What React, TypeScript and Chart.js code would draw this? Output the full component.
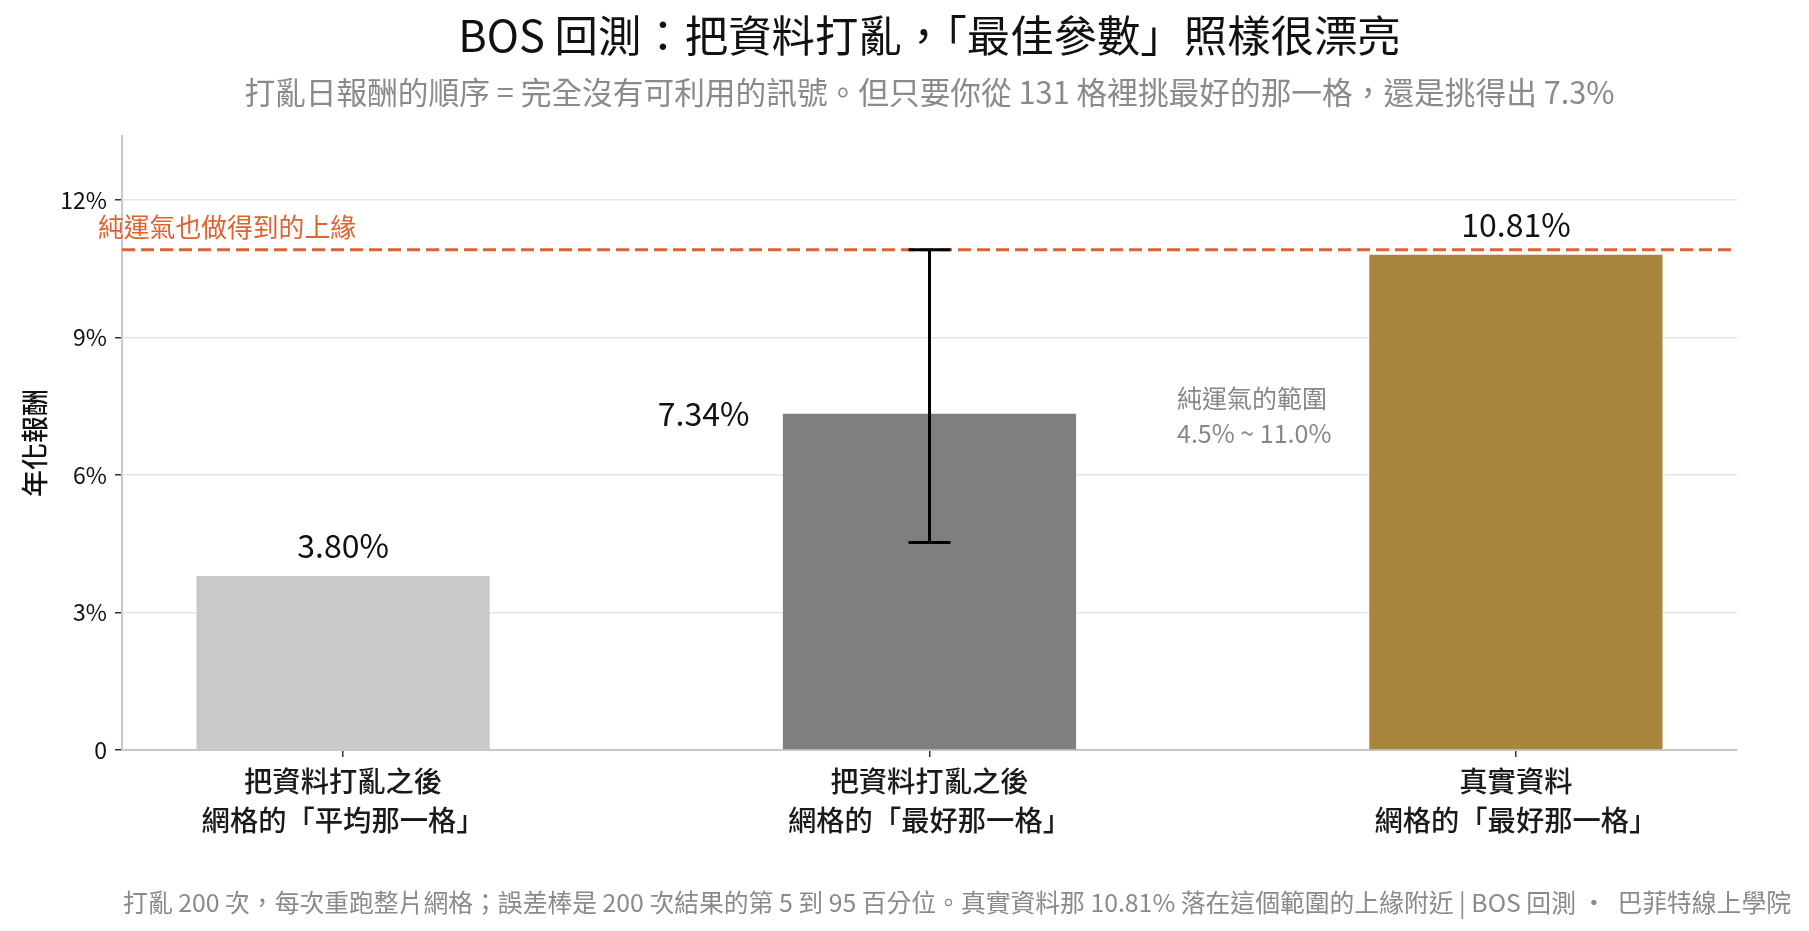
import React, { useEffect, useRef } from 'react';
import { Chart, registerables } from 'chart.js';

Chart.register(...registerables);

const FONT = '"Noto Sans CJK TC", "Noto Sans", sans-serif';

const categories = [
    ['把資料打亂之後', '網格的「平均那一格」'],
    ['把資料打亂之後', '網格的「最好那一格」'],
    ['真實資料', '網格的「最好那一格」'],
];
const annualReturns = [3.80, 7.34, 10.81];
const barColors = ['#c8c9c8', '#7f7f7f', '#a8863c'];
const luckLow = 4.53;
const luckHigh = 10.92;
const yTicks = [0, 3, 6, 9, 12];

const TITLE = 'BOS 回測：把資料打亂，「最佳參數」照樣很漂亮';
const SUBTITLE = '打亂日報酬的順序 = 完全沒有可利用的訊號。但只要你從 131 格裡挑最好的那一格，還是挑得出 7.3%';
const FOOTNOTE = '打亂 200 次，每次重跑整片網格；誤差棒是 200 次結果的第 5 到 95 百分位。真實資料那 10.81% 落在這個範圍的上緣附近 | BOS 回測 ·  巴菲特線上學院';
const Y_TITLE = '年化報酬';
const LINE_LABEL = '純運氣也做得到的上緣';
const RANGE_LABEL = ['純運氣的範圍', '4.5% ~ 11.0%'];

const ORANGE = '#e0622e';

const decorPlugin = {
    id: 'decor',
    afterDatasetsDraw(chart: any) {
        const { ctx, chartArea, scales } = chart;
        const x = scales.x;
        const y = scales.y;
        const cx = (chartArea.left + chartArea.right) / 2;

        ctx.save();
        // upper edge of pure luck
        const yHigh = y.getPixelForValue(luckHigh);
        ctx.strokeStyle = ORANGE;
        ctx.lineWidth = 3;
        ctx.setLineDash([13, 6]);
        ctx.beginPath();
        ctx.moveTo(chartArea.left, yHigh);
        ctx.lineTo(chartArea.right, yHigh);
        ctx.stroke();
        ctx.setLineDash([]);

        ctx.fillStyle = ORANGE;
        ctx.font = `25.8px ${FONT}`;
        ctx.textAlign = 'left';
        ctx.textBaseline = 'middle';
        ctx.fillText(LINE_LABEL, 98, yHigh - 22);

        // error bar on the shuffled best cell
        const ex = x.getPixelForValue(1);
        const yLow = y.getPixelForValue(luckLow);
        ctx.strokeStyle = '#000';
        ctx.lineWidth = 3;
        ctx.beginPath();
        ctx.moveTo(ex, yLow);
        ctx.lineTo(ex, yHigh);
        ctx.moveTo(ex - 21, yLow);
        ctx.lineTo(ex + 21, yLow);
        ctx.moveTo(ex - 21, yHigh);
        ctx.lineTo(ex + 21, yHigh);
        ctx.stroke();

        // value labels
        ctx.fillStyle = '#111';
        ctx.font = `32px ${FONT}`;
        ctx.textBaseline = 'middle';
        annualReturns.forEach((v, i) => {
            const bx = x.getPixelForValue(i);
            const by = y.getPixelForValue(v);
            const txt = `${v.toFixed(2)}%`;
            if (i === 1) {
                ctx.textAlign = 'right';
                ctx.fillText(txt, bx - 180, by);
            } else {
                ctx.textAlign = 'center';
                ctx.fillText(txt, bx, by - 30);
            }
        });

        // range annotation
        ctx.fillStyle = '#888';
        ctx.font = `25px ${FONT}`;
        ctx.textAlign = 'left';
        ctx.fillText(RANGE_LABEL[0], 1177, 398);
        ctx.fillText(RANGE_LABEL[1], 1177, 433);

        // title and subtitle
        ctx.textAlign = 'center';
        ctx.fillStyle = '#111';
        ctx.font = `43.4px ${FONT}`;
        ctx.fillText(TITLE, cx, 36);
        ctx.fillStyle = '#8a8a8a';
        ctx.font = `30.7px ${FONT}`;
        ctx.fillText(SUBTITLE, cx, 92);

        // footnote
        ctx.textAlign = 'right';
        ctx.font = `24.8px ${FONT}`;
        ctx.fillText(FOOTNOTE, 1791, 903);

        // y axis title
        ctx.translate(35, (chartArea.top + chartArea.bottom) / 2);
        ctx.rotate(-Math.PI / 2);
        ctx.textAlign = 'center';
        ctx.fillStyle = '#111';
        ctx.font = `500 27px ${FONT}`;
        ctx.fillText(Y_TITLE, 0, 0);
        ctx.restore();
    },
};

export default function App() {
    const chartRef = useRef<HTMLCanvasElement | null>(null);

    useEffect(() => {
        document.body.style.margin = '0';
        let chartInstance: Chart | null = null;
        if (chartRef.current) {
            const ctx = chartRef.current.getContext('2d');
            if (ctx) {
                chartInstance = new Chart(ctx, {
                    type: 'bar',
                    data: {
                        datasets: [
                            {
                                data: annualReturns.map((v, i) => ({ x: i, y: v })),
                                backgroundColor: barColors,
                                categoryPercentage: 1,
                                barPercentage: 0.5,
                            },
                        ],
                    },
                    options: {
                        responsive: true,
                        maintainAspectRatio: false,
                        animation: false,
                        layout: { padding: { top: 136, left: 0, right: 72, bottom: 81 } },
                        plugins: {
                            legend: { display: false },
                            tooltip: { enabled: false },
                        },
                        scales: {
                            x: {
                                type: 'linear',
                                min: -0.377,
                                max: 2.377,
                                offset: false,
                                afterBuildTicks: (scale: any) => {
                                    scale.ticks = categories.map((_, i) => ({ value: i }));
                                },
                                afterFit: (scale: any) => {
                                    scale.height = 100;
                                },
                                grid: { offset: false, drawOnChartArea: false, tickColor: '#333', tickLength: 7, lineWidth: 1.5 },
                                border: { color: '#c8c8c8', width: 2 },
                                ticks: {
                                    autoSkip: false,
                                    maxRotation: 0,
                                    padding: 4,
                                    color: '#1a1a1a',
                                    font: { family: FONT, size: 28.3, weight: 500, lineHeight: 1.4 },
                                    callback: (v: any) => categories[Number(v)] ?? '',
                                },
                            },
                            y: {
                                min: 0,
                                max: 13.4,
                                afterBuildTicks: (scale: any) => {
                                    scale.ticks = yTicks.map(v => ({ value: v }));
                                },
                                afterFit: (scale: any) => {
                                    scale.width = 122;
                                },
                                grid: { color: '#e6e6e6', lineWidth: 1.5, tickColor: '#333', tickLength: 7 },
                                border: { color: '#c8c8c8', width: 2 },
                                ticks: {
                                    padding: 8,
                                    color: '#111',
                                    font: { family: FONT, size: 23 },
                                    callback: (v: any) => (Number(v) === 0 ? '0' : `${v}%`),
                                },
                            },
                        },
                    },
                    plugins: [decorPlugin],
                });
            }
        }
        return () => {
            if (chartInstance) chartInstance.destroy();
        };
    }, []);

    return (
        <div style={{ width: 1809, height: 931, background: '#fff' }}>
            <canvas ref={chartRef}></canvas>
        </div>
    );
}
